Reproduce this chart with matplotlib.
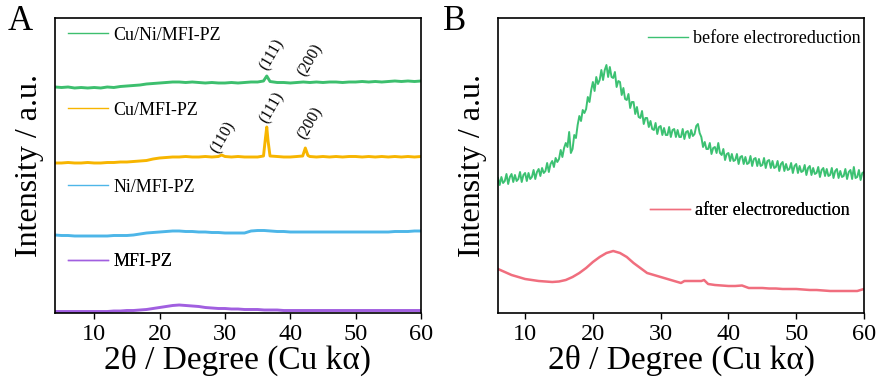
import matplotlib
matplotlib.use("Agg")
import matplotlib.pyplot as plt
from matplotlib.lines import Line2D

plt.rcParams.update({
    "font.family": ["Liberation Serif", "DejaVu Serif"],
    "axes.linewidth": 1.2,
    "xtick.major.width": 1.0,
    "xtick.major.size": 4,
})

GREEN, ORANGE, BLUE, PURPLE = "#3dbf6e", "#f7b500", "#4db6e8", "#a15fe0"
GREEN_B, PINK = "#3cc172", "#f06e7e"

# ---- panel A: stacked XRD patterns (offset intensities, a.u.) ----
cuni_x = list(range(4, 36)) + [35.9, 36.4, 36.9] + list(range(38, 61))
cuni_y = [226, 225.5, 226, 225, 225.5, 225, 225.5, 225, 226, 225.5, 226.5, 227, 227.5, 228,
          229, 229.5, 230, 230.5, 231, 231, 230.5, 231, 230.5, 230, 230.5, 230, 230, 230.5,
          230, 230.5, 231, 231,
          232, 237, 231.5,
          230.5, 230.5, 230, 230.5, 231, 230.5, 231, 230.5, 231, 231, 230.5, 231, 231, 231.5,
          231, 231.5, 231, 231.5, 232, 231.5, 232, 231.5, 232]

cu_x = (list(range(4, 30)) + [29.5] + list(range(30, 36)) + [35.9, 36.2, 36.4, 36.6, 36.9]
        + [38, 39, 40, 41, 41.9, 42.3, 42.7] + list(range(43, 61)))
cu_y = [150, 150, 150.5, 150, 150, 150.5, 150, 150, 150.5, 150.5, 151, 151, 151.5, 152,
        152.5, 154, 155, 155.5, 156, 156, 156.5, 156, 156, 156.5, 156, 156.5,
        158,
        156.5, 156, 156.5, 156, 156, 156,
        157, 175, 186, 172, 157,
        156.5, 156, 156, 156.5, 157, 165, 157.5,
        156.5, 156, 156.5, 156, 156.5, 156, 156.5, 156.5, 156, 156.5, 156, 156.5, 156,
        156.5, 156, 156.5, 156, 156.5]

ni_x = list(range(4, 61))
ni_y = [78, 77.5, 77.5, 77, 77, 77, 77, 77, 77, 77.5, 77.5, 77.5, 78, 79, 80, 80.5, 81,
        81.5, 82, 82, 81.5, 81.5, 81, 81, 80.5, 80.5, 80, 80, 80, 80, 82, 82.5, 82.5, 82,
        81.5, 81.5, 81, 81, 81, 81, 81, 81, 81, 81, 81, 81, 81, 81, 81, 81, 81, 81, 81.5,
        81.5, 81.5, 82, 82]

mfi_x = list(range(4, 61))
mfi_y = [1.5, 1.5, 1.5, 1.5, 1.5, 1.5, 1.5, 1.5, 1.5, 2, 2, 2.5, 2.5, 3, 3.5, 4.5, 5.5,
         6.5, 7.5, 8, 7.5, 7, 6.5, 5.5, 5, 4.5, 4.5, 4, 4, 3.5, 3.5, 3.5, 3, 3, 3, 2.5,
         2.5, 2.5, 2.5, 2.5, 2.5, 2.5, 2.5, 2.5, 2.5, 2.5, 2.5, 2.5, 2.5, 2.5, 2.5, 2.5,
         2.5, 2.5, 2.5, 2.5, 2.5]

# hkl labels: (text, 2theta, height)
hkl_labels = [("(111)", 37.2, 258), ("(200)", 43.0, 253),
              ("(110)", 29.8, 176), ("(111)", 37.2, 205), ("(200)", 43.0, 190)]

# ---- panel B: before / after electroreduction ----
before_x = [6 + 0.25 * i for i in range(217)]
before_y = [135, 128, 136, 130,   132, 139, 129, 136,   139, 131, 138, 132,
            134, 141, 131, 138,   140, 132, 140, 134,   136, 143, 134, 141,
            144, 137, 145, 140,   142, 150, 141, 149,   152, 146, 155, 151,
            154, 163, 156, 165,   170, 166, 181, 160,   164, 178, 175, 188,
            197, 192, 203, 200,   204, 216, 211, 223,   231, 222, 236, 229,
            233, 243, 233, 243,   248, 236, 246, 236,   235, 241, 226, 232,
            231, 218, 225, 214,   213, 219, 205, 211,   211, 199, 206, 196,
            195, 202, 189, 195,   195, 186, 192, 184,   183, 190, 179, 186,
            187, 178, 185, 178,   178, 186, 176, 183,   184, 176, 183, 176,
            176, 184, 174, 181,   182, 175, 183, 177,   179, 187, 189, 180,
            176, 166, 171, 164,   164, 170, 159, 165,   166, 160, 170, 160,
            158, 164, 153, 159,   160, 152, 159, 152,   153, 159, 149, 156,
            157, 149, 156, 149,   150, 157, 147, 154,   155, 147, 154, 147,
            148, 155, 145, 152,   153, 145, 152, 145,   146, 152, 142, 149,
            151, 142, 149, 143,   144, 150, 140, 147,   149, 140, 147, 141,
            142, 148, 138, 145,   147, 138, 145, 139,   140, 146, 136, 143,
            145, 137, 144, 137,   138, 145, 135, 142,   144, 135, 142, 136,
            137, 144, 134, 141,   143, 134, 146, 135,   136, 143, 133, 140,
            141]

after_x = (list(range(6, 34)) + [33.5, 34, 35, 36, 36.4] + list(range(37, 61)))
after_y = [44, 41, 38, 36, 34, 33, 32, 31.5, 31, 31.5, 33, 36, 40, 45, 51, 56, 60, 62, 60,
           56, 50, 45, 40, 38, 36, 34, 32, 30,
           32, 32, 32, 32, 33,
           29, 28, 27.5, 27, 27, 27.5, 25, 25, 25, 24.5, 24.5, 24, 24, 24, 23.5, 23, 23,
           22.5, 22, 22, 22, 22, 22, 24]

fig = plt.figure(figsize=(8.82, 3.83), dpi=100)
axA = fig.add_axes([55 / 882, 70 / 383, 366 / 882, 295 / 383])
axB = fig.add_axes([498 / 882, 70 / 383, 366 / 882, 295 / 383])

series_A = [(cuni_x, cuni_y, GREEN, "Cu/Ni/MFI-PZ", 0.942),
            (cu_x, cu_y, ORANGE, "Cu/MFI-PZ", 0.688),
            (ni_x, ni_y, BLUE, "Ni/MFI-PZ", 0.427),
            (mfi_x, mfi_y, PURPLE, "MFI-PZ", 0.173)]
for xs, ys, c, lab, ly in series_A:
    axA.plot(xs, ys, color=c, lw=2.1, solid_joinstyle="round")
    h = Line2D([], [], color=c, lw=1.0)
    leg = axA.legend(handles=[h], labels=[lab], loc="center left",
                     bbox_to_anchor=(0.0355, ly), frameon=False, fontsize=13,
                     handlelength=2.2, handletextpad=0.3, borderpad=0, borderaxespad=0)
    axA.add_artist(leg)

for txt, x, y in hkl_labels:
    axA.text(x, y, txt, rotation=60, ha="center", va="center", fontsize=11.5)

axA.set_xlim(4, 60)
axA.set_ylim(0, 295)

axB.plot(before_x, before_y, color=GREEN_B, lw=1.4)
axB.plot(after_x, after_y, color=PINK, lw=1.8)
for c, lab, lx, ly in [(GREEN_B, "before electroreduction", 0.41, 0.929),
                       (PINK, "after electroreduction", 0.415, 0.346)]:
    h = Line2D([], [], color=c, lw=1.0)
    leg = axB.legend(handles=[h], labels=[lab], loc="center left",
                     bbox_to_anchor=(lx, ly), frameon=False, fontsize=13,
                     handlelength=2.2, handletextpad=0.3, borderpad=0, borderaxespad=0)
    axB.add_artist(leg)
axB.set_xlim(6, 60)
axB.set_ylim(0, 295)

for ax in (axA, axB):
    ax.set_yticks([])
    ax.set_xticks([10, 20, 30, 40, 50, 60])
    ax.tick_params(axis="x", direction="out", labelsize=17.5, pad=4)
    ax.set_xlabel("2θ / Degree (Cu kα)", fontsize=24, labelpad=0)
    ax.set_ylabel("Intensity / a.u.", fontsize=23, labelpad=8)

fig.text(8 / 882, 1 - 22 / 383, "A", fontsize=25, va="center", ha="left")
fig.text(443 / 882, 1 - 22 / 383, "B", fontsize=25, va="center", ha="left")

fig.savefig("out.png", dpi=100)
